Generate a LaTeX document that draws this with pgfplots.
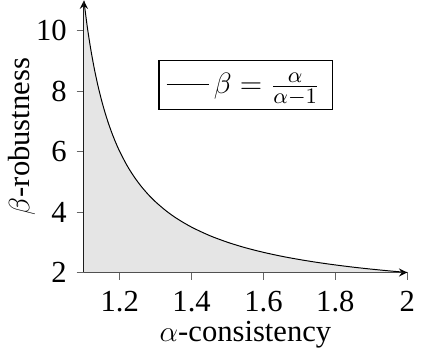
\documentclass[border=0pt]{standalone}
\usepackage{fontspec}
\setmainfont{Liberation Serif}
\usepackage{pgfplots}
\pgfplotsset{compat=1.18}

\begin{document}
\begin{tikzpicture}
\begin{axis}[
  width=132pt, height=111pt, scale only axis,
  axis lines=left,
  xmin=1.1, xmax=2, ymin=2, ymax=11,
  xtick={1.2,1.4,1.6,1.8,2},
  ytick={2,4,6,8,10},
  xticklabels={1.2,1.4,1.6,1.8,2},
  /pgf/number format/assume math mode=true,
  tick align=outside,
  major tick length=3pt,
  tick style={draw=black!60, line width=0.3pt},
  axis line style={line width=0.5pt},
  tick label style={font=\fontsize{12.5}{13}\selectfont},
  label style={font=\fontsize{12.5}{13}\selectfont},
  yticklabel style={xshift=-0.5pt},
  xticklabel style={yshift=-1pt},
  xlabel={$\alpha$-consistency},
  ylabel={$\beta$-robustness},
  xlabel style={yshift=3pt},
  ylabel style={yshift=-6.5pt},
  legend style={at={(0.5,0.69)}, anchor=center, draw=black, line width=0.5pt,
    inner xsep=3pt, inner ysep=3pt, font=\fontsize{12.5}{13}\selectfont},
  legend cell align={left},
]
\addplot[fill=black!10, draw=none, forget plot] coordinates {
(1.10,11.000) (1.11,10.091) (1.12,9.333) (1.13,8.692) (1.14,8.143)
(1.15,7.667) (1.16,7.250) (1.17,6.882) (1.18,6.556) (1.19,6.263)
(1.20,6.000) (1.22,5.545) (1.24,5.167) (1.26,4.846) (1.28,4.571)
(1.30,4.333) (1.33,4.030) (1.36,3.778) (1.40,3.500) (1.45,3.222)
(1.50,3.000) (1.55,2.818) (1.60,2.667) (1.65,2.538) (1.70,2.429)
(1.75,2.333) (1.80,2.250) (1.85,2.176) (1.90,2.111) (1.95,2.053)
(2.00,2.000)} \closedcycle;
\addplot[black, line width=0.4pt, smooth] coordinates {
(1.10,11.000) (1.11,10.091) (1.12,9.333) (1.13,8.692) (1.14,8.143)
(1.15,7.667) (1.16,7.250) (1.17,6.882) (1.18,6.556) (1.19,6.263)
(1.20,6.000) (1.22,5.545) (1.24,5.167) (1.26,4.846) (1.28,4.571)
(1.30,4.333) (1.33,4.030) (1.36,3.778) (1.40,3.500) (1.45,3.222)
(1.50,3.000) (1.55,2.818) (1.60,2.667) (1.65,2.538) (1.70,2.429)
(1.75,2.333) (1.80,2.250) (1.85,2.176) (1.90,2.111) (1.95,2.053)
(2.00,2.000)};
\addlegendentry{$\beta=\frac{\alpha}{\alpha-1}$}
\end{axis}
\end{tikzpicture}
\end{document}
